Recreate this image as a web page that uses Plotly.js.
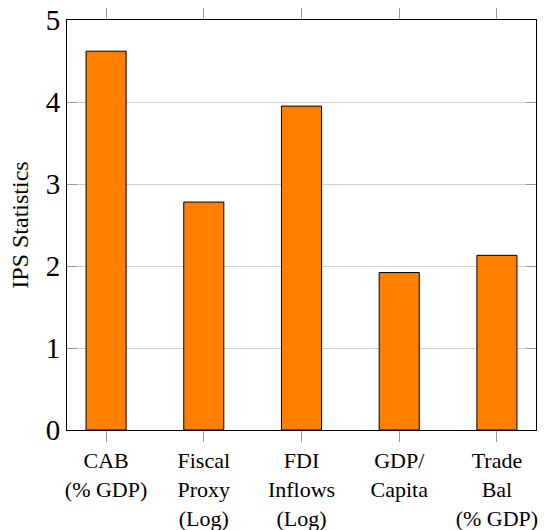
<!DOCTYPE html>
<html>
<head>
<meta charset="utf-8">
<script src="https://cdn.plot.ly/plotly-3.0.1.min.js"></script>
<style>
html,body{margin:0;padding:0;background:#fff;}
#chart{width:544px;height:530px;}
#chart svg text{font-family:"Liberation Serif", serif !important;}
</style>
</head>
<body>
<div id="chart"></div>
<script>
const categories = ["CAB<br>(% GDP)", "Fiscal<br>Proxy<br>(Log)", "FDI<br>Inflows<br>(Log)", "GDP/<br>Capita", "Trade<br>Bal<br>(% GDP)"];
const values = [4.62, 2.78, 3.95, 1.92, 2.13];
const yTicks = [0, 1, 2, 3, 4, 5];

const serifFamily = "Liberation Serif";

const trace = {
  type: "bar",
  x: categories,
  y: values,
  width: 0.41,
  marker: {color: "#FF8000", line: {color: "#000000", width: 1}},
  hoverinfo: "skip"
};

const layout = {
  width: 544,
  height: 530,
  font: {family: serifFamily, color: "#000"},
  margin: {l: 67, r: 8, t: 20, b: 100},
  paper_bgcolor: "#ffffff",
  plot_bgcolor: "#ffffff",
  showlegend: false,
  bargap: 0,
  xaxis: {
    type: "category",
    range: [-0.4, 4.4],
    showline: true, linecolor: "#000", linewidth: 1, mirror: "ticks",
    ticks: "outside", ticklen: 11, tickcolor: "#999", tickwidth: 1,
    showgrid: false, zeroline: false,
    tickfont: {family: serifFamily, size: 22, color: "#000"},
    fixedrange: true
  },
  yaxis: {
    range: [0, 5],
    tickvals: yTicks,
    ticktext: yTicks.map(String),
    showline: true, linecolor: "#000", linewidth: 1, mirror: "ticks",
    ticks: "inside", ticklen: 10, tickcolor: "#999", tickwidth: 1,
    showgrid: true, gridcolor: "#cfcfcf", gridwidth: 1,
    zeroline: false,
    tickfont: {family: serifFamily, size: 29, color: "#000"},
    title: {text: "IPS Statistics", font: {family: serifFamily, size: 24, color: "#000"}, standoff: 10},
    fixedrange: true
  }
};

Plotly.newPlot("chart", [trace], layout, {displayModeBar: false, staticPlot: true});
</script>
</body>
</html>
